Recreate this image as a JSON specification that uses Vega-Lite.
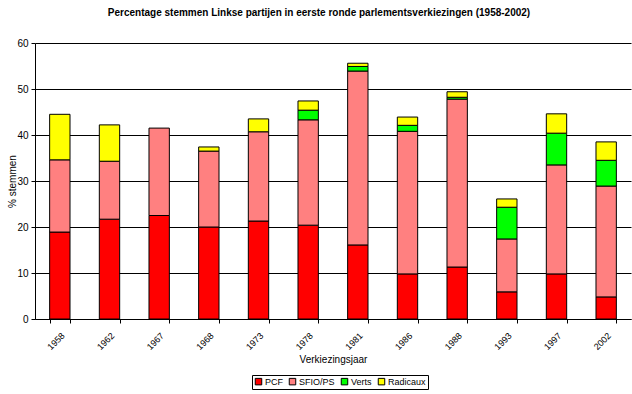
{
  "$schema": "https://vega.github.io/schema/vega-lite/v6.json",
  "autosize": {"type": "none"},
  "width": 596,
  "height": 276,
  "padding": {"left": 35, "top": 43, "right": 1, "bottom": 75},
  "background": "white",
  "title": {
    "text": "Percentage stemmen Linkse partijen in eerste ronde parlementsverkiezingen (1958-2002)",
    "font": "Liberation Sans",
    "fontSize": 10,
    "fontWeight": "bold",
    "color": "black",
    "anchor": "middle",
    "frame": "bounds",
    "offset": 20
  },
  "config": {
    "view": {"stroke": null},
    "axis": {"labelFont": "Liberation Sans", "titleFont": "Liberation Sans", "labelColor": "black", "titleColor": "black", "domainColor": "black", "tickColor": "black", "gridColor": "black", "gridOpacity": 1, "titleFontWeight": "normal"},
    "legend": {"labelFont": "Liberation Sans"}
  },
  "data": {
    "values": [
      {"jaar": "1958", "partij": "PCF", "k": 1, "pct": 18.9},
      {"jaar": "1958", "partij": "SFIO/PS", "k": 2, "pct": 15.7},
      {"jaar": "1958", "partij": "Radicaux", "k": 4, "pct": 9.9},
      {"jaar": "1962", "partij": "PCF", "k": 1, "pct": 21.7},
      {"jaar": "1962", "partij": "SFIO/PS", "k": 2, "pct": 12.6},
      {"jaar": "1962", "partij": "Radicaux", "k": 4, "pct": 7.9},
      {"jaar": "1967", "partij": "PCF", "k": 1, "pct": 22.5},
      {"jaar": "1967", "partij": "SFIO/PS", "k": 2, "pct": 19.0},
      {"jaar": "1968", "partij": "PCF", "k": 1, "pct": 20.0},
      {"jaar": "1968", "partij": "SFIO/PS", "k": 2, "pct": 16.5},
      {"jaar": "1968", "partij": "Radicaux", "k": 4, "pct": 0.9},
      {"jaar": "1973", "partij": "PCF", "k": 1, "pct": 21.3},
      {"jaar": "1973", "partij": "SFIO/PS", "k": 2, "pct": 19.4},
      {"jaar": "1973", "partij": "Radicaux", "k": 4, "pct": 2.8},
      {"jaar": "1978", "partij": "PCF", "k": 1, "pct": 20.4},
      {"jaar": "1978", "partij": "SFIO/PS", "k": 2, "pct": 22.9},
      {"jaar": "1978", "partij": "Verts", "k": 3, "pct": 2.1},
      {"jaar": "1978", "partij": "Radicaux", "k": 4, "pct": 2.0},
      {"jaar": "1981", "partij": "PCF", "k": 1, "pct": 16.1},
      {"jaar": "1981", "partij": "SFIO/PS", "k": 2, "pct": 37.8},
      {"jaar": "1981", "partij": "Verts", "k": 3, "pct": 1.0},
      {"jaar": "1981", "partij": "Radicaux", "k": 4, "pct": 0.7},
      {"jaar": "1986", "partij": "PCF", "k": 1, "pct": 9.8},
      {"jaar": "1986", "partij": "SFIO/PS", "k": 2, "pct": 31.0},
      {"jaar": "1986", "partij": "Verts", "k": 3, "pct": 1.3},
      {"jaar": "1986", "partij": "Radicaux", "k": 4, "pct": 1.8},
      {"jaar": "1988", "partij": "PCF", "k": 1, "pct": 11.3},
      {"jaar": "1988", "partij": "SFIO/PS", "k": 2, "pct": 36.5},
      {"jaar": "1988", "partij": "Verts", "k": 3, "pct": 0.4},
      {"jaar": "1988", "partij": "Radicaux", "k": 4, "pct": 1.2},
      {"jaar": "1993", "partij": "PCF", "k": 1, "pct": 5.9},
      {"jaar": "1993", "partij": "SFIO/PS", "k": 2, "pct": 11.5},
      {"jaar": "1993", "partij": "Verts", "k": 3, "pct": 6.9},
      {"jaar": "1993", "partij": "Radicaux", "k": 4, "pct": 1.8},
      {"jaar": "1997", "partij": "PCF", "k": 1, "pct": 9.8},
      {"jaar": "1997", "partij": "SFIO/PS", "k": 2, "pct": 23.7},
      {"jaar": "1997", "partij": "Verts", "k": 3, "pct": 6.9},
      {"jaar": "1997", "partij": "Radicaux", "k": 4, "pct": 4.2},
      {"jaar": "2002", "partij": "PCF", "k": 1, "pct": 4.8},
      {"jaar": "2002", "partij": "SFIO/PS", "k": 2, "pct": 24.1},
      {"jaar": "2002", "partij": "Verts", "k": 3, "pct": 5.6},
      {"jaar": "2002", "partij": "Radicaux", "k": 4, "pct": 4.0}
    ]
  },
  "mark": {"type": "bar", "stroke": "black", "strokeWidth": 1},
  "encoding": {
    "x": {
      "field": "jaar",
      "type": "ordinal",
      "scale": {"paddingInner": 0.59, "paddingOuter": 0.295},
      "axis": {
        "title": "Verkiezingsjaar",
        "titleFontSize": 10,
        "titleY": 43,
        "titleBaseline": "alphabetic",
        "labelAngle": -45,
        "labelAlign": "right",
        "labelBaseline": "top",
        "labelFontSize": 9,
        "labelPadding": 8,
        "tickSize": 4,
        "tickBand": "extent",
        "domainWidth": 1,
        "grid": false
      }
    },
    "y": {
      "field": "pct",
      "type": "quantitative",
      "stack": "zero",
      "scale": {"domain": [0, 60], "nice": false},
      "axis": {
        "title": "% stemmen",
        "titleFontSize": 10,
        "titleX": -23,
        "titleBaseline": "middle",
        "values": [0, 10, 20, 30, 40, 50, 60],
        "labelFontSize": 10,
        "tickSize": 4,
        "labelPadding": 3,
        "grid": true,
        "gridWidth": 1
      }
    },
    "color": {
      "field": "partij",
      "type": "nominal",
      "scale": {"domain": ["PCF", "SFIO/PS", "Verts", "Radicaux"], "range": ["#FF0000", "#FF8080", "#00FF00", "#FFFF00"]},
      "legend": {
        "title": null,
        "orient": "none",
        "legendX": 217,
        "legendY": 332,
        "direction": "horizontal",
        "columns": 4,
        "strokeColor": "black",
        "padding": 2,
        "columnPadding": 4,
        "symbolType": "square",
        "symbolSize": 42,
        "symbolStrokeColor": "black",
        "symbolStrokeWidth": 1,
        "symbolOpacity": 1,
        "labelFontSize": 9,
        "labelColor": "black",
        "labelOffset": 2
      }
    },
    "order": {"field": "k", "type": "quantitative"}
  }
}
